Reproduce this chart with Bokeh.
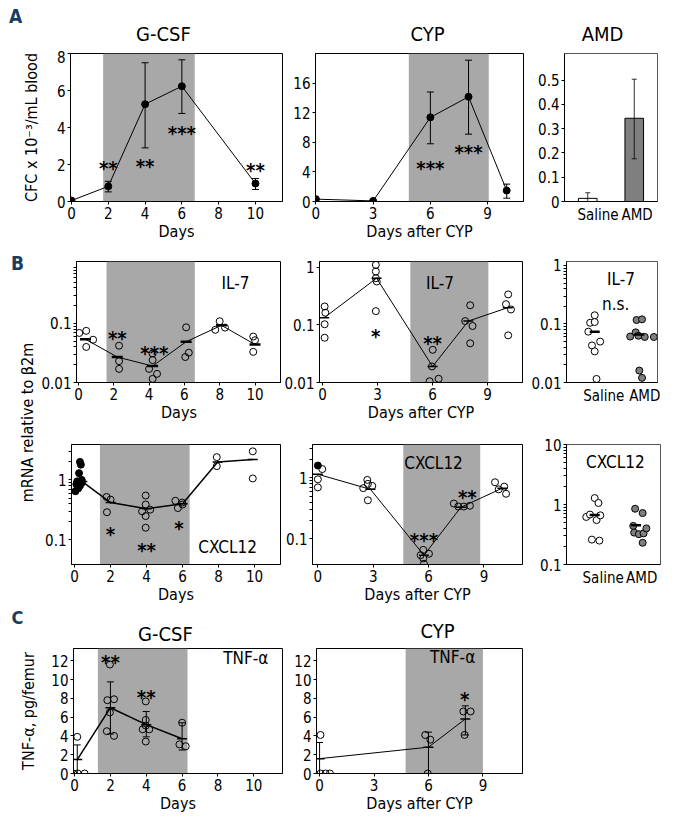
import math
from bokeh.plotting import figure
from bokeh.models import (Range1d, BoxAnnotation, Label, FixedTicker,
                          CustomJSTickFormatter)
from bokeh.layouts import column, row
from bokeh.core.properties import value
from bokeh.embed import file_html
from bokeh.resources import INLINE

NAN = float("nan")

# ======================= DATA =======================
# ---- Panel A : circulating CFC ----
gcsf_day_ticks = [0, 2, 4, 6, 8, 10]
cyp_day_ticks = [0, 3, 6, 9]

a_gcsf_days = [0, 2, 4, 6, 10]
a_gcsf_cfc = [0.05, 0.82, 5.26, 6.23, 0.97]
a_gcsf_err_lo = [NAN, 0.52, 2.9, 4.76, 0.65]
a_gcsf_err_hi = [NAN, 1.09, 7.5, 7.66, 1.24]
a_gcsf_star_days = [2, 4, 6, 10]
a_gcsf_star_y = [2.08, 2.2, 4.0, 2.0]
a_gcsf_star_txt = ["**", "**", "***", "**"]
a_gcsf_treat = [1.72, 6.7]

a_cyp_days = [0, 3, 6, 8, 10]
a_cyp_cfc = [0.32, 0.08, 11.37, 14.15, 1.48]
a_cyp_err_lo = [NAN, NAN, 7.8, 9.1, 0.45]
a_cyp_err_hi = [NAN, NAN, 14.8, 19.1, 2.35]
a_cyp_star_days = [6, 8]
a_cyp_star_y = [5.26, 7.4]
a_cyp_star_txt = ["***", "***"]
a_cyp_treat = [4.87, 9.06]

amd_labels = ["Saline", "AMD"]
a_amd_mean = [0.013, 0.343]
a_amd_err_lo = [0.0, 0.176]
a_amd_err_hi = [0.036, 0.504]
a_amd_ticks = [0, 0.1, 0.2, 0.3, 0.4, 0.5]

# ---- Panel B : IL-7 mRNA ----
b_il7_gcsf_days = [0.05, 0.44, 0.44, 0.83, 2.3, 2.3, 2.3, 4.2, 4.2, 4.0, 4.45, 4.2,
                   6.1, 6.25, 6.05, 8.0, 7.75, 8.3, 9.9, 10.0, 9.9]
b_il7_gcsf_val = [0.069, 0.075, 0.040, 0.053, 0.042, 0.023, 0.017, 0.031, 0.024, 0.017,
                  0.014, 0.0115, 0.086, 0.032, 0.027, 0.109, 0.078, 0.085, 0.06, 0.052, 0.033]
b_il7_gcsf_med_days = [0.4, 2.2, 4.2, 6.1, 8.1, 10.0]
b_il7_gcsf_med = [0.054, 0.027, 0.019, 0.049, 0.093, 0.044]
b_il7_gcsf_star_days = [2.2, 4.3]
b_il7_gcsf_star_y = [0.068, 0.039]
b_il7_gcsf_star_txt = ["**", "***"]
b_il7_gcsf_treat = [1.59, 6.59]

b_il7_cyp_days = [0.12, 0.16, 0.12, 0.12, 2.91, 2.91, 2.91, 2.96, 2.91, 6.01, 5.97, 5.84,
                  6.33, 8.05, 7.78, 8.18, 8.05, 10.12, 10.0, 10.27, 10.12]
b_il7_cyp_val = [0.21, 0.163, 0.103, 0.060, 1.11, 0.85, 0.65, 0.57, 0.174, 0.037, 0.019,
                 0.0105, 0.0116, 0.22, 0.117, 0.096, 0.048, 0.34, 0.23, 0.186, 0.066]
b_il7_cyp_med_days = [0.1, 2.95, 6.0, 7.95, 10.1]
b_il7_cyp_med = [0.134, 0.65, 0.019, 0.117, 0.2]
b_il7_cyp_star_days = [2.9, 6.0]
b_il7_cyp_star_y = [0.079, 0.06]
b_il7_cyp_star_txt = ["*", "**"]
b_il7_cyp_treat = [4.79, 9.04]

b_il7_saline_x = [0.31, 0.26, 0.31, 0.24, 0.37, 0.28, 0.31, 0.33]
b_il7_saline_val = [0.141, 0.105, 0.108, 0.074, 0.05, 0.043, 0.034, 0.0115]
b_il7_amd_x = [0.77, 0.83, 0.76, 0.70, 0.86, 0.79, 0.96, 0.80, 0.83]
b_il7_amd_val = [0.117, 0.12, 0.072, 0.061, 0.06, 0.063, 0.06, 0.016, 0.012]
b_il7_amd_med_x = [0.31, 0.80]
b_il7_amd_med = [0.074, 0.066]

# ---- Panel B : CXCL12 mRNA ----
b_cx_gcsf_d0_days = [0.3, 0.35, 0.25, 0.4, 0.15, 0.4, 0.1, 0.3, 0.2, 0.05]
b_cx_gcsf_d0_val = [2.0, 1.8, 1.3, 1.0, 0.95, 0.9, 0.85, 0.8, 0.72, 0.65]
b_cx_gcsf_days = [1.78, 2.0, 1.8, 3.95, 3.95, 3.75, 4.2, 3.95, 3.95, 5.6, 5.98, 5.74,
                  6.0, 7.9, 7.9, 9.9, 9.9]
b_cx_gcsf_val = [0.52, 0.47, 0.29, 0.55, 0.39, 0.30, 0.32, 0.25, 0.16, 0.45, 0.42, 0.34,
                 0.39, 2.4, 1.7, 3.0, 1.06]
b_cx_gcsf_med_days = [0.43, 2.0, 4.0, 6.0, 7.95, 9.9]
b_cx_gcsf_med = [0.94, 0.42, 0.33, 0.40, 2.0, 2.2]
b_cx_gcsf_star_days = [2.0, 4.0, 5.8]
b_cx_gcsf_star_y = [0.15, 0.083, 0.195]
b_cx_gcsf_star_txt = ["*", "**", "*"]
b_cx_gcsf_treat = [1.41, 6.39]

b_cx_cyp_d0_days = [0.0]
b_cx_cyp_d0_val = [1.6]
b_cx_cyp_days = [0.24, 0.0, 0.0, 2.68, 2.71, 2.46, 2.95, 2.71, 5.71, 5.57, 6.02, 5.71, 5.75,
                 7.37, 7.61, 7.91, 8.24, 9.6, 10.1, 9.8, 10.2]
b_cx_cyp_val = [1.4, 0.95, 0.7, 0.93, 0.80, 0.68, 0.74, 0.43, 0.066, 0.054, 0.057, 0.048,
                0.039, 0.38, 0.34, 0.34, 0.35, 0.85, 0.72, 0.65, 0.55]
b_cx_cyp_med_days = [0.0, 2.85, 5.75, 7.75, 10.0]
b_cx_cyp_med = [1.15, 0.65, 0.054, 0.33, 0.68]
b_cx_cyp_star_days = [5.75, 8.1]
b_cx_cyp_star_y = [0.116, 0.58]
b_cx_cyp_star_txt = ["***", "**"]
b_cx_cyp_treat = [4.63, 8.8]

b_cx_saline_x = [0.30, 0.34, 0.21, 0.25, 0.32, 0.36, 0.27, 0.35]
b_cx_saline_val = [1.28, 1.06, 0.62, 0.68, 0.55, 0.66, 0.26, 0.25]
b_cx_amd_x = [0.73, 0.81, 0.71, 0.72, 0.77, 0.82, 0.85, 0.81]
b_cx_amd_val = [0.85, 0.72, 0.44, 0.34, 0.32, 0.33, 0.40, 0.23]
b_cx_amd_med_x = [0.30, 0.74]
b_cx_amd_med = [0.67, 0.45]

# ---- Panel C : TNF-alpha ----
tnf_ticks = [0, 2, 4, 6, 8, 10, 12]
c_gcsf_days = [-0.07, 0.18, 0.56, 0.15, 1.97, 1.83, 2.2, 1.97, 1.8, 2.2,
               3.97, 3.97, 3.8, 4.17, 3.97, 3.97, 6.0, 5.85, 6.2]
c_gcsf_val = [0, 0, 0, 3.9, 11.6, 7.8, 7.9, 6.5, 4.5, 4.0,
              7.67, 5.7, 4.7, 4.7, 5.1, 3.4, 5.4, 3.1, 2.9]
c_gcsf_mean_days = [0.15, 2.0, 4.0, 6.0]
c_gcsf_mean = [1.48, 7.0, 5.2, 3.7]
c_gcsf_err_lo = [0.0, 4.2, 3.9, 2.5]
c_gcsf_err_hi = [3.04, 9.75, 6.6, 5.4]
c_gcsf_star_days = [2.0, 4.0]
c_gcsf_star_y = [12.4, 8.7]
c_gcsf_star_txt = ["**", "**"]
c_gcsf_treat = [1.3, 6.3]

c_cyp_days = [0.05, 0.05, 0.33, 0.57, 5.82, 6.1, 5.96, 7.92, 8.32, 7.99]
c_cyp_val = [4.1, 0, 0, 0, 4.1, 3.6, 0.0, 6.6, 6.6, 4.1]
c_cyp_mean_days = [0.0, 6.0, 8.03]
c_cyp_mean = [1.58, 2.8, 5.8]
c_cyp_err_lo = [0.0, 0.0, 4.1]
c_cyp_err_hi = [3.3, 4.4, 7.2]
c_cyp_star_days = [8.0]
c_cyp_star_y = [8.5]
c_cyp_star_txt = ["*"]
c_cyp_treat = [4.74, 9.0]

# ======================= STYLE =======================
FONT = "DejaVu Sans Condensed, Liberation Sans, sans-serif"
SHADE = "#a8a8a8"
AMD_GRAY = "#7f7f7f"
LETTER = "#1b3b60"
TICK_FS = "15px"
AXLAB_FS = "16px"


def style_axis(ax, tick_out=3):
    ax.axis_line_color = "black"
    ax.major_tick_line_color = "black"
    ax.minor_tick_line_color = "black"
    ax.major_tick_in = 0
    ax.major_tick_out = tick_out
    ax.minor_tick_in = 0
    ax.minor_tick_out = 0
    ax.major_label_text_font = FONT
    ax.major_label_text_font_size = TICK_FS
    ax.major_label_text_color = "black"
    ax.major_label_standoff = 2
    ax.axis_label_text_font = FONT
    ax.axis_label_text_font_size = AXLAB_FS
    ax.axis_label_text_font_style = "normal"
    ax.axis_label_text_color = "black"
    ax.axis_label_standoff = 0


def make_fig(w, h, xr, yr, borders, ylog=False):
    l, r, t, b = borders
    p = figure(width=w, height=h, x_range=Range1d(*xr), y_range=Range1d(*yr),
               y_axis_type="log" if ylog else "linear", title=None,
               output_backend="svg", toolbar_location=None,
               min_border_left=l, min_border_right=r,
               min_border_top=t, min_border_bottom=b)
    p.grid.visible = False
    p.outline_line_color = "black"
    p.outline_line_width = 1
    p.background_fill_color = "white"
    p.border_fill_color = "white"
    for ax in p.axis:
        style_axis(ax)
    return p


def text_strip(w, h):
    p = figure(width=w, height=h, x_range=Range1d(0, 1), y_range=Range1d(0, 1),
               x_axis_type=None, y_axis_type=None, min_border=0, title=None,
               output_backend="svg", toolbar_location=None)
    p.outline_line_color = None
    p.grid.visible = False
    p.background_fill_color = "white"
    p.border_fill_color = "white"
    return p


def tostr_fmt():
    return CustomJSTickFormatter(code="return tick.toString();")


def log_ticks(p, majors, minor=True):
    mins = []
    if minor:
        for m in majors:
            mins += [m * k for k in range(2, 10)]
    p.yaxis.ticker = FixedTicker(ticks=majors, minor_ticks=mins)
    p.yaxis.formatter = tostr_fmt()
    if minor:
        p.yaxis.minor_tick_out = 3


def shade(p, span):
    p.add_layout(BoxAnnotation(left=span[0], right=span[1], fill_color=SHADE,
                               fill_alpha=1.0, line_color=None, level="underlay"))


def errbars(p, xs, lo, hi, cap=8, width=1):
    p.segment(x0=xs, y0=lo, x1=xs, y1=hi, line_color="black", line_width=width)
    p.scatter(x=list(xs) + list(xs), y=list(lo) + list(hi), marker="dash",
              size=cap, line_color="black", line_width=width)


def stars(p, xs, ys, texts):
    p.text(x=xs, y=ys, text=texts, text_font=value(FONT), text_font_size="20px",
           text_font_style="bold", text_align="center", text_baseline="middle",
           y_offset=5, text_color="black")


def note(p, x, y, txt, size="17px"):
    p.text(x=[x], y=[y], text=[txt], text_font=value(FONT), text_font_size=size,
           text_align="center", text_baseline="middle", text_color="black")


def medians(p, xs, ys, size=11, width=2.5):
    p.scatter(x=xs, y=ys, marker="dash", size=size, line_color="black", line_width=width)


def open_pts(p, xs, ys, fill=None, size=7):
    p.scatter(x=xs, y=ys, size=size, marker="circle", line_color="black",
              line_width=1, fill_color=fill)


def screen_label(p, x, y, txt, size="19px", bold=False, color="black", angle=0):
    p.add_layout(Label(x=x, y=y, x_units="screen", y_units="screen", text=txt,
                       text_font=FONT, text_font_size=size,
                       text_font_style="bold" if bold else "normal",
                       text_color=color, text_align="center", text_baseline="middle",
                       angle=angle, angle_units="deg"))


def amd_xaxis(p, positions):
    p.xaxis.ticker = FixedTicker(ticks=positions)
    p.xaxis.formatter = CustomJSTickFormatter(
        args=dict(labels=amd_labels, pos=positions),
        code="const i = pos.indexOf(tick); return i >= 0 ? labels[i] : '';")
    p.xaxis.major_tick_out = 0
    p.xaxis.major_label_standoff = 4


# ======================= ROW A =======================
sA = text_strip(667, 50)
screen_label(sA, 15, 35, "A", size="19px", bold=True, color=LETTER)
screen_label(sA, 163, 17, "G-CSF", size="20px")
screen_label(sA, 427, 17, "CYP", size="20px")
screen_label(sA, 602, 17, "AMD", size="20px")

pA1 = make_fig(287, 193, (-0.054, 11.47), (0, 8), (70, 5, 3, 41))
shade(pA1, a_gcsf_treat)
pA1.line(a_gcsf_days, a_gcsf_cfc, line_color="black", line_width=1)
errbars(pA1, a_gcsf_days, a_gcsf_err_lo, a_gcsf_err_hi, cap=7)
pA1.scatter(a_gcsf_days, a_gcsf_cfc, size=7, color="black")
stars(pA1, a_gcsf_star_days, a_gcsf_star_y, a_gcsf_star_txt)
pA1.xaxis.ticker = FixedTicker(ticks=gcsf_day_ticks)
pA1.yaxis.ticker = FixedTicker(ticks=[0, 2, 4, 6, 8])
pA1.xaxis.axis_label = "Days"
pA1.yaxis.axis_label = "CFC x 10\u207b\u00b3/mL blood"
pA1.yaxis.axis_label_standoff = 13

pA2 = make_fig(243, 193, (-0.02, 10.88), (0, 20), (28, 7, 3, 41))
shade(pA2, a_cyp_treat)
pA2.line(a_cyp_days, a_cyp_cfc, line_color="black", line_width=1)
errbars(pA2, a_cyp_days, a_cyp_err_lo, a_cyp_err_hi, cap=7)
pA2.scatter(a_cyp_days, a_cyp_cfc, size=7, color="black")
stars(pA2, a_cyp_star_days, a_cyp_star_y, a_cyp_star_txt)
pA2.xaxis.ticker = FixedTicker(ticks=cyp_day_ticks)
pA2.yaxis.ticker = FixedTicker(ticks=[0, 4, 8, 12, 16])
pA2.xaxis.axis_label = "Days after CYP"

pA3 = make_fig(137, 193, (0, 1), (0, 0.61), (34, 10, 3, 41))
amd_bar_x = [0.25, 0.75]
pA3.vbar(x=amd_bar_x, top=a_amd_mean, width=0.2, bottom=0,
         fill_color=["white", AMD_GRAY], line_color="black", line_width=1)
errbars(pA3, amd_bar_x, a_amd_err_lo, a_amd_err_hi, cap=5, width=0.8)
pA3.yaxis.ticker = FixedTicker(ticks=a_amd_ticks)
pA3.yaxis.formatter = tostr_fmt()
amd_xaxis(pA3, [0.36, 0.78])
pA3.outline_line_color = "#555555"

# ======================= ROW B =======================
pB0 = text_strip(38, 363)
screen_label(pB0, 17, 344, "B", size="19px", bold=True, color=LETTER)
screen_label(pB0, 27, 184, "mRNA relative to \u03b22m", size="16px", angle=90)

# B1a  G-CSF IL-7
pB1a = make_fig(243, 181, (-0.11, 11.5), (0.01, 1.12), (34, 0, 18, 42), ylog=True)
shade(pB1a, b_il7_gcsf_treat)
pB1a.line(b_il7_gcsf_med_days, b_il7_gcsf_med, line_color="black", line_width=1)
open_pts(pB1a, b_il7_gcsf_days, b_il7_gcsf_val)
medians(pB1a, b_il7_gcsf_med_days, b_il7_gcsf_med)
stars(pB1a, b_il7_gcsf_star_days, b_il7_gcsf_star_y, b_il7_gcsf_star_txt)
note(pB1a, 8.9, 0.48, "IL-7")
pB1a.xaxis.ticker = FixedTicker(ticks=gcsf_day_ticks)
log_ticks(pB1a, [0.01, 0.1])
pB1a.xaxis.axis_label = "Days"

# B1b  CYP IL-7
pB1b = make_fig(247, 181, (-0.16, 10.9), (0.01, 1.27), (33, 6, 18, 42), ylog=True)
shade(pB1b, b_il7_cyp_treat)
pB1b.line(b_il7_cyp_med_days, b_il7_cyp_med, line_color="black", line_width=1)
open_pts(pB1b, b_il7_cyp_days, b_il7_cyp_val)
medians(pB1b, b_il7_cyp_med_days, b_il7_cyp_med, size=10, width=1.5)
stars(pB1b, b_il7_cyp_star_days, b_il7_cyp_star_y, b_il7_cyp_star_txt)
note(pB1b, 6.4, 0.53, "IL-7")
pB1b.xaxis.ticker = FixedTicker(ticks=cyp_day_ticks)
log_ticks(pB1b, [0.01, 0.1, 1], minor=False)
pB1b.xaxis.axis_label = "Days after CYP"

# B1c  AMD IL-7
pB1c = make_fig(139, 181, (0, 1), (0.01, 1.17), (32, 10, 18, 42), ylog=True)
open_pts(pB1c, b_il7_saline_x, b_il7_saline_val, fill="white")
open_pts(pB1c, b_il7_amd_x, b_il7_amd_val, fill=AMD_GRAY)
medians(pB1c, b_il7_amd_med_x, b_il7_amd_med, size=10, width=2.5)
note(pB1c, 0.6, 0.58, "IL-7")
note(pB1c, 0.54, 0.22, "n.s.")
log_ticks(pB1c, [0.01, 0.1, 1])
amd_xaxis(pB1c, [0.41, 0.86])
pB1c.outline_line_color = "#555555"

# B2a  G-CSF CXCL12
pB2a = make_fig(244, 182, (-0.17, 11.44), (0.039, 3.9), (33, 2, 20, 40), ylog=True)
shade(pB2a, b_cx_gcsf_treat)
pB2a.line(b_cx_gcsf_med_days, b_cx_gcsf_med, line_color="black", line_width=1.5)
pB2a.scatter(b_cx_gcsf_d0_days, b_cx_gcsf_d0_val, size=7, color="black")
open_pts(pB2a, b_cx_gcsf_days, b_cx_gcsf_val)
medians(pB2a, b_cx_gcsf_med_days, b_cx_gcsf_med, size=10, width=1.5)
stars(pB2a, b_cx_gcsf_star_days, b_cx_gcsf_star_y, b_cx_gcsf_star_txt)
note(pB2a, 8.5, 0.077, "CXCL12")
pB2a.xaxis.ticker = FixedTicker(ticks=gcsf_day_ticks)
log_ticks(pB2a, [0.1, 1])
pB2a.xaxis.axis_label = "Days"

# B2b  CYP CXCL12
pB2b = make_fig(248, 182, (-0.29, 11.09), (0.038, 3.54), (30, 8, 20, 40), ylog=True)
shade(pB2b, b_cx_cyp_treat)
pB2b.line(b_cx_cyp_med_days, b_cx_cyp_med, line_color="black", line_width=1)
pB2b.scatter(b_cx_cyp_d0_days, b_cx_cyp_d0_val, size=7, color="black")
open_pts(pB2b, b_cx_cyp_days, b_cx_cyp_val)
medians(pB2b, b_cx_cyp_med_days, b_cx_cyp_med, size=10, width=1.5)
stars(pB2b, b_cx_cyp_star_days, b_cx_cyp_star_y, b_cx_cyp_star_txt)
note(pB2b, 6.27, 1.75, "CXCL12")
pB2b.xaxis.ticker = FixedTicker(ticks=cyp_day_ticks)
log_ticks(pB2b, [0.1, 1])
pB2b.xaxis.axis_label = "Days after CYP"

# B2c  AMD CXCL12
pB2c = make_fig(137, 182, (0, 1), (0.1, 10), (36, 7, 20, 40), ylog=True)
open_pts(pB2c, b_cx_saline_x, b_cx_saline_val, fill="white")
open_pts(pB2c, b_cx_amd_x, b_cx_amd_val, fill=AMD_GRAY)
medians(pB2c, b_cx_amd_med_x, b_cx_amd_med, size=10, width=2.5)
note(pB2c, 0.52, 5.1, "CXCL12")
log_ticks(pB2c, [0.1, 1, 10])
amd_xaxis(pB2c, [0.39, 0.80])
pB2c.outline_line_color = "#555555"

# ======================= ROW C =======================
sC = text_strip(667, 40)
screen_label(sC, 17, 29, "C", size="18px", bold=True, color=LETTER)
screen_label(sC, 165, 13, "G-CSF", size="20px")
screen_label(sC, 437, 16, "CYP", size="20px")

pC1 = make_fig(287, 169, (-0.06, 11.6), (0, 13.3), (73, 5, 2, 41))
shade(pC1, c_gcsf_treat)
pC1.line(c_gcsf_mean_days, c_gcsf_mean, line_color="black", line_width=1.5)
errbars(pC1, c_gcsf_mean_days, c_gcsf_err_lo, c_gcsf_err_hi, cap=7)
open_pts(pC1, c_gcsf_days, c_gcsf_val)
medians(pC1, c_gcsf_mean_days, c_gcsf_mean, size=10, width=1.5)
stars(pC1, c_gcsf_star_days, c_gcsf_star_y, c_gcsf_star_txt)
note(pC1, 9.55, 12.3, "TNF-\u03b1")
pC1.xaxis.ticker = FixedTicker(ticks=gcsf_day_ticks)
pC1.yaxis.ticker = FixedTicker(ticks=tnf_ticks)
pC1.xaxis.axis_label = "Days"
pC1.yaxis.axis_label = "TNF-\u03b1, pg/femur"
pC1.yaxis.axis_label_standoff = 10

pC2 = make_fig(243, 169, (-0.17, 11.18), (0, 13.3), (29, 8, 2, 41))
shade(pC2, c_cyp_treat)
pC2.line(c_cyp_mean_days, c_cyp_mean, line_color="black", line_width=1)
errbars(pC2, c_cyp_mean_days, c_cyp_err_lo, c_cyp_err_hi, cap=7)
open_pts(pC2, c_cyp_days, c_cyp_val)
medians(pC2, c_cyp_mean_days, c_cyp_mean, size=10, width=1.5)
stars(pC2, c_cyp_star_days, c_cyp_star_y, c_cyp_star_txt)
note(pC2, 7.33, 12.4, "TNF-\u03b1")
pC2.xaxis.ticker = FixedTicker(ticks=cyp_day_ticks)
pC2.yaxis.ticker = FixedTicker(ticks=tnf_ticks)
pC2.xaxis.axis_label = "Days after CYP"

layout = column(
    sA,
    row(pA1, pA2, pA3),
    row(pB0, column(row(pB1a, pB1b, pB1c), row(pB2a, pB2b, pB2c))),
    sC,
    row(pC1, pC2),
)

open("out.html", "w").write(file_html(layout, INLINE))
